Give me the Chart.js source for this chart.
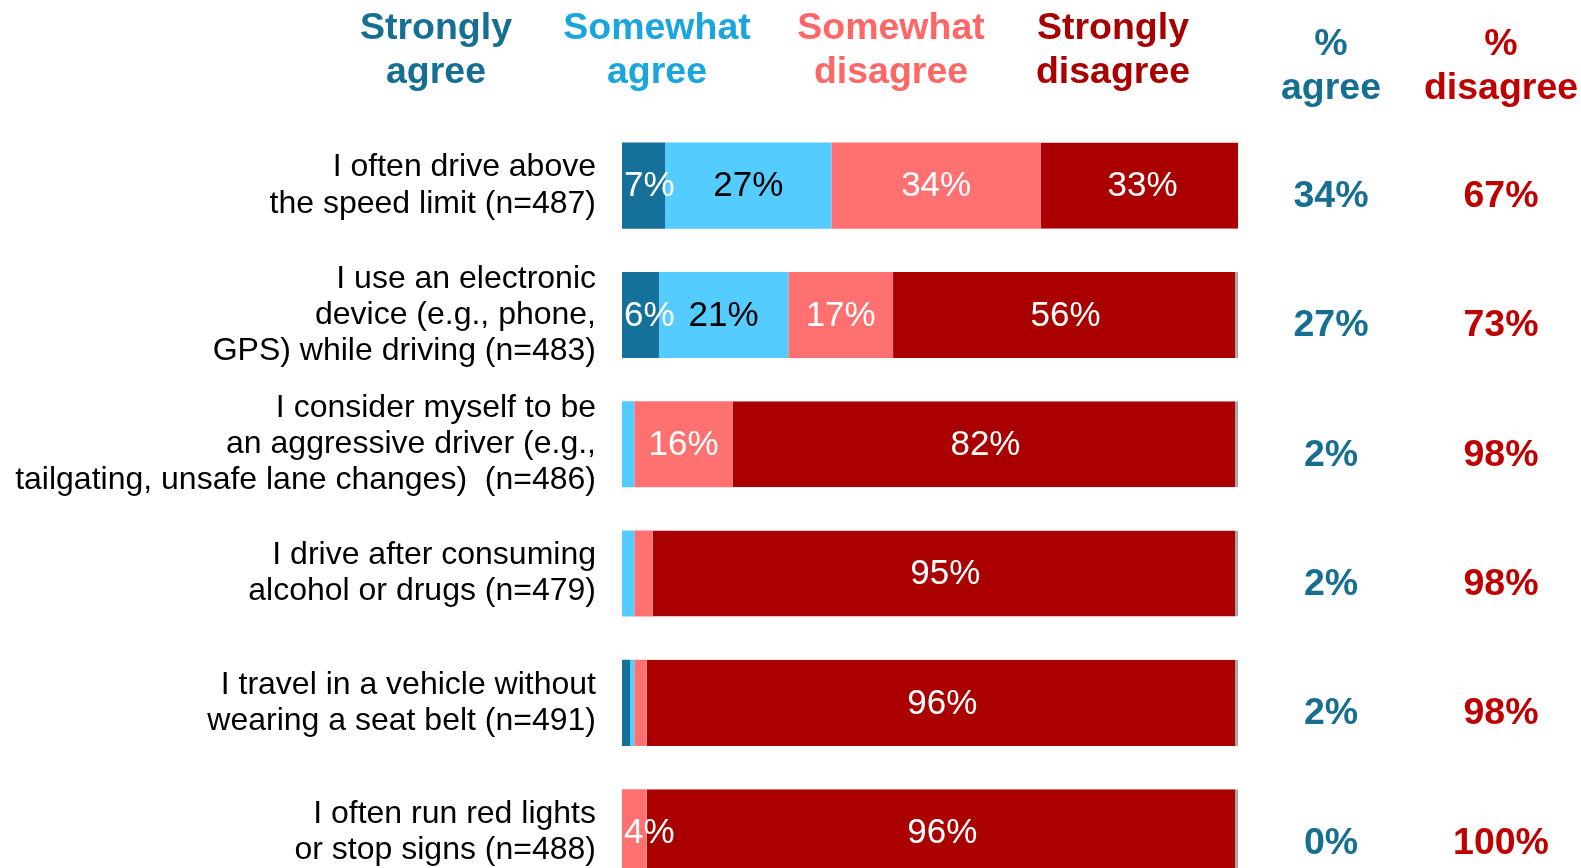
<!DOCTYPE html>
<html>
<head>
<meta charset="utf-8">
<title>Risky driving behaviours</title>
<script src="https://cdn.jsdelivr.net/npm/chart.js@4.4.1/dist/chart.umd.min.js"></script>
<style>
  html, body { margin: 0; padding: 0; background: #fff; overflow: hidden; }
  #wrap { width: 1581px; height: 951px; }
</style>
</head>
<body>
<div id="wrap"><canvas id="driving" width="1581" height="951"></canvas></div>
<script>
// Survey statements (y axis)
const categories = [
  ['I often drive above', 'the speed limit (n=487)'],
  ['I use an electronic', 'device (e.g., phone,', 'GPS) while driving (n=483)'],
  ['I consider myself to be', 'an aggressive driver (e.g.,', 'tailgating, unsafe lane changes)  (n=486)'],
  ['I drive after consuming', 'alcohol or drugs (n=479)'],
  ['I travel in a vehicle without', 'wearing a seat belt (n=491)'],
  ['I often run red lights', 'or stop signs (n=488)']
];

// Response shares, percent
const stronglyAgree     = [7, 6, 0, 0, 1.3, 0];
const somewhatAgree     = [27, 21, 2, 2, 0.7, 0];
const somewhatDisagree  = [34, 17, 16, 3, 2, 4];
const stronglyDisagree  = [33, 56, 82, 95, 96, 96];

// Summary columns
const pctAgree    = [34, 27, 2, 2, 2, 0];
const pctDisagree = [67, 73, 98, 98, 98, 100];

const FONT = "'Liberation Sans', Arial, Helvetica, sans-serif";

const COLORS = {
  strongAgree: '#15709A',
  someAgree: '#55CCFF',
  someDisagree: '#FF7070',
  strongDisagree: '#AB0000'
};

// Percent labels inside the bar segments
const segmentLabels = {
  id: 'segmentLabels',
  afterDatasetsDraw(chart) {
    const ctx = chart.ctx;
    const left = chart.chartArea.left;
    ctx.save();
    ctx.font = `35px ${FONT}`;
    ctx.textAlign = 'center';
    ctx.textBaseline = 'middle';
    chart.data.datasets.forEach((ds, di) => {
      const meta = chart.getDatasetMeta(di);
      meta.data.forEach((bar, i) => {
        const v = ds.data[i];
        if (v < 4) return;
        const text = v + '%';
        const w = ctx.measureText(text).width;
        let cx = (bar.x + bar.base) / 2;
        // keep narrow labels inside the plot area
        cx = Math.max(cx, left + w / 2 + 2);
        ctx.fillStyle = ds.labelColor;
        ctx.fillText(text, cx, bar.y + 1);
      });
    });
    ctx.restore();
  }
};

// Column headers and the % agree / % disagree columns
const headerColumns = {
  id: 'headerColumns',
  afterDraw(chart) {
    const ctx = chart.ctx;
    const y = chart.scales.y;
    ctx.save();
    ctx.textAlign = 'center';
    ctx.textBaseline = 'middle';
    ctx.font = `bold 37.5px ${FONT}`;

    const heads = [
      { lines: ['Strongly', 'agree'], x: 436, color: '#166F92' },
      { lines: ['Somewhat', 'agree'], x: 657, color: '#1AA6DC' },
      { lines: ['Somewhat', 'disagree'], x: 891, color: '#FF6666' },
      { lines: ['Strongly', 'disagree'], x: 1113, color: '#A80000' }
    ];
    heads.forEach(h => {
      ctx.fillStyle = h.color;
      ctx.fillText(h.lines[0], h.x, 29);
      ctx.fillText(h.lines[1], h.x, 73);
    });

    ctx.fillStyle = '#166F92';
    ctx.fillText('%', 1331, 45);
    ctx.fillText('agree', 1331, 89);
    ctx.fillStyle = '#C00000';
    ctx.fillText('%', 1501, 45);
    ctx.fillText('disagree', 1501, 89);

    pctAgree.forEach((v, i) => {
      const py = y.getPixelForValue(i) + 11;
      ctx.fillStyle = '#166F92';
      ctx.fillText(v + '%', 1331, py);
      ctx.fillStyle = '#C00000';
      ctx.fillText(pctDisagree[i] + '%', 1501, py);
    });
    ctx.restore();
  }
};

const barPct = 86 / 129.2;

new Chart(document.getElementById('driving'), {
  type: 'bar',
  data: {
    labels: categories,
    datasets: [
      { label: 'Strongly agree', data: stronglyAgree, backgroundColor: COLORS.strongAgree, labelColor: '#fff' },
      { label: 'Somewhat agree', data: somewhatAgree, backgroundColor: COLORS.someAgree, labelColor: '#000' },
      { label: 'Somewhat disagree', data: somewhatDisagree, backgroundColor: COLORS.someDisagree, labelColor: '#fff' },
      {
        label: 'Strongly disagree', data: stronglyDisagree, backgroundColor: COLORS.strongDisagree, labelColor: '#fff',
        borderColor: '#A6A6A6', borderWidth: { top: 0, right: 3, bottom: 0, left: 0 }, borderSkipped: false
      }
    ]
  },
  options: {
    indexAxis: 'y',
    responsive: false,
    animation: false,
    barPercentage: barPct,
    categoryPercentage: 1,
    layout: {
      padding: { top: 121, right: 343, bottom: 5, left: 0 }
    },
    plugins: {
      legend: { display: false },
      tooltip: { enabled: false }
    },
    scales: {
      x: {
        stacked: true,
        min: 0,
        max: 100,
        display: false
      },
      y: {
        stacked: true,
        grid: { display: false },
        border: { display: false },
        afterFit: (scale) => { scale.width = 622; },
        ticks: {
          color: '#000',
          padding: 18,
          font: { family: FONT, size: 32, lineHeight: 1.13 }
        }
      }
    }
  },
  plugins: [segmentLabels, headerColumns]
});
</script>
</body>
</html>
